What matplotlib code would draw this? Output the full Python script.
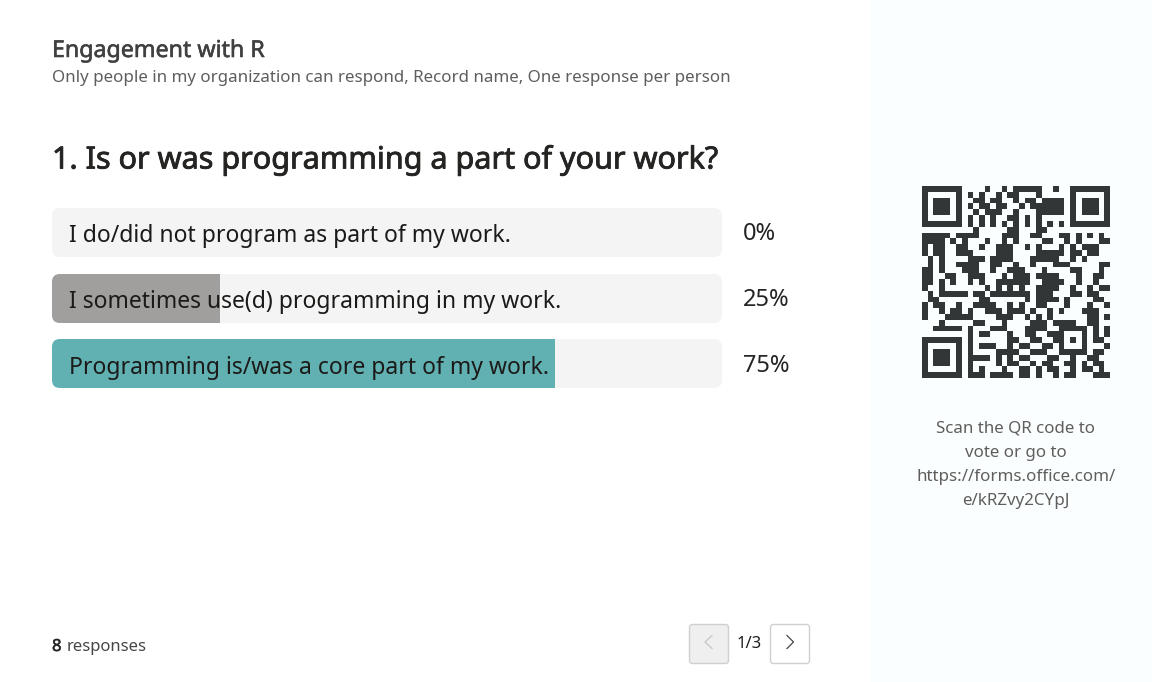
#!/usr/bin/env python

import numpy as np
import matplotlib
matplotlib.use("Agg")
import matplotlib.pyplot as plt
import matplotlib.patheffects as pe
from matplotlib.colors import ListedColormap
from matplotlib.patches import FancyBboxPatch, Rectangle

plt.rcParams['font.family'] = ['Noto Sans', 'DejaVu Sans']

title = "Engagement with R"
subtitle = "Only people in my organization can respond, Record name, One response per person"
question = "1. Is or was programming a part of your work?"
options = ["I do/did not program as part of my work.",
           "I sometimes use(d) programming in my work.",
           "Programming is/was a core part of my work."]
percents = [0, 25, 75]
bar_colors = ['#a19f9d', '#a19f9d', '#62b1b2']
responses = 8
page = "1/3"
scan_lines = ["Scan the QR code to", "vote or go to", "https://forms.office.com/", "e/kRZvy2CYpJ"]

qr_rows = [
    "1111111 0000100101111100100 1111111",
    "1000001 0101001011000100000 1000001",
    "1011101 0011011001011011110 1011101",
    "1011101 0101101100101111110 1011101",
    "1011101 0010111001000111110 1011101",
    "1000001 0101010011010100000 1000001",
    "1111111 0101010101010101010 1111111",
    "0000000 0010000011000110000 0000000",
    "111110111100001110011000110101010",
    "111101010001001010000110010100011",
    "101100110010011100101000101011100",
    "101100111000011100001111101101100",
    "010100001110111100011111001010000",
    "010100111100110010010001110000011",
    "110100011100100111000100001100010",
    "110011001110001011101111000100110",
    "110101001010011111100111100100100",
    "100100000001010101001111001001011",
    "010111110110111111101110001101100",
    "011000000011000000101111010000110",
    "101100100111100101001100010001001",
    "100101101001110111010010100011100",
    "100011111000011100101010000001101",
    "000100000110001000011101111001100",
    "001111101000111000111100111110101",
    "00000000 1011000100110011 10001 0101",
    "1111111 0 1000000110011001 10101 0110",
    "1000001 0 1011100101100110 10001 0001",
    "1011101 0 1000011110011100 11111 0110",
    "1011101 0 1111010101100011 00100 1100",
    "1011101 0 1000010110010110 01101 0110",
    "1000001 0 1010001001101011 00101 1010",
    "1111111 0 1110111101101001 01100 0111",
]
qr_matrix = np.array([[int(c) for c in r.replace(" ", "")] for r in qr_rows])

# no semibold cut is installed, a thin stroke stands in for it
semibold = [pe.withStroke(linewidth=0.4, foreground='#404040')]

fig = plt.figure(figsize=(11.52, 6.82), dpi=100)
ax = fig.add_axes([0, 0, 1, 1])
ax.set_xlim(0, 1152)
ax.set_ylim(682, 0)
ax.axis('off')

ax.add_patch(Rectangle((870, 0), 282, 682, facecolor='#fbfeff', edgecolor='none'))

ax.text(52, 51, title, fontsize=16.7, color='#404040', va='center', path_effects=semibold)
ax.text(52, 78, subtitle, fontsize=12.2, color='#605e5c', va='center')
ax.text(52, 160, question, fontsize=22.0, color='#252423', va='center',
        path_effects=[pe.withStroke(linewidth=0.6, foreground='#252423')])

# bars share the track scale, 100% is the whole track
track_x, track_w = 52, 670
bar_tops = [208, 274, 339]
bar_h = 49
for label, pct, col, top in zip(options, percents, bar_colors, bar_tops):
    track = FancyBboxPatch((track_x, top), track_w, bar_h, boxstyle="round,pad=0,rounding_size=8",
                           facecolor='#f4f4f4', edgecolor='none')
    ax.add_patch(track)
    bars = ax.barh(top + bar_h / 2, pct / 100 * track_w, height=bar_h, left=track_x, color=col)
    bars[0].set_clip_path(track)
    ax.text(69, top + bar_h / 2 + 4, label, fontsize=16.5, color='#1b1a19', va='center')
    ax.text(743, top + bar_h / 2 + 2, "%d%%" % pct, fontsize=17.0, color='#252423', va='center')

ax.imshow(qr_matrix, cmap=ListedColormap(['#fbfeff', '#323637']), extent=(922, 1110, 378, 186),
          interpolation='antialiased', aspect='auto', zorder=2)
ax.set_xlim(0, 1152)
ax.set_ylim(682, 0)

for i, line in enumerate(scan_lines):
    ax.text(1016, 428.5 + i * 24.3, line, fontsize=12.2, color='#605e5c', ha='center', va='center')

ax.text(52, 647, str(responses), fontsize=12.0, color='#252423', va='center', path_effects=semibold)
ax.text(67, 647, "responses", fontsize=12.0, color='#484644', va='center')

# pager buttons
ax.add_patch(FancyBboxPatch((689.5, 624.5), 39, 39, boxstyle="round,pad=0,rounding_size=3",
                            facecolor='#efefef', edgecolor='#d2d0ce', linewidth=1))
ax.add_patch(FancyBboxPatch((770.5, 624.5), 39, 39, boxstyle="round,pad=0,rounding_size=3",
                            facecolor='white', edgecolor='#d2d0ce', linewidth=1))
ax.plot([712, 705, 712], [635.5, 642, 648.5], color='#c8c6c4', linewidth=0.9)
ax.plot([787, 793.5, 787], [635.5, 642, 648.5], color='#484644', linewidth=0.9)
ax.text(749, 643.5, page, fontsize=12.0, color='#201f1e', ha='center', va='center')

fig.savefig('out.png', dpi=100)
